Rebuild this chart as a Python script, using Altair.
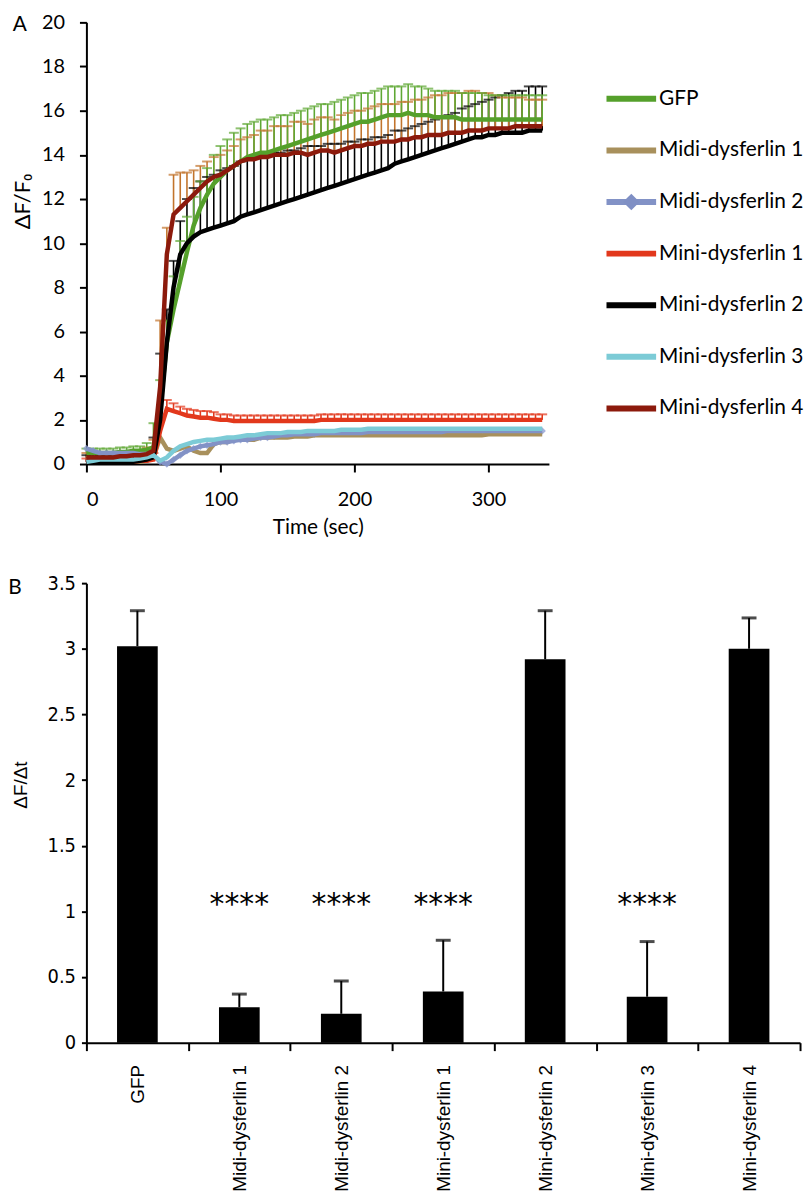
import altair as alt
import pandas as pd

# ---------------- Panel A data ----------------
times = list(range(0, 345, 5))
series_names = ["GFP", "Midi-dysferlin 1", "Midi-dysferlin 2", "Mini-dysferlin 1",
                "Mini-dysferlin 2", "Mini-dysferlin 3", "Mini-dysferlin 4"]
series_colors = ["#55a02b", "#a8905c", "#8292c6", "#e2381c", "#000000", "#7ccbd6", "#8c1a0c"]

gfp = [0.5, 0.5, 0.5, 0.5, 0.5, 0.55, 0.55, 0.6, 0.6, 0.65,
       0.75, 2.5, 5.5, 7.0, 8.3, 9.6, 10.8, 11.6, 12.2, 12.7,
       13.0, 13.3, 13.5, 13.7, 13.9, 14.0, 14.1, 14.1, 14.2, 14.3,
       14.4, 14.5, 14.6, 14.7, 14.8, 14.9, 15.0, 15.1, 15.2, 15.3,
       15.4, 15.5, 15.5, 15.6, 15.7, 15.8, 15.8, 15.8, 15.9, 15.8,
       15.8, 15.8, 15.7, 15.7, 15.7, 15.7, 15.6, 15.6, 15.6, 15.6,
       15.6, 15.6, 15.6, 15.6, 15.6, 15.6, 15.6, 15.6, 15.6]
midi1 = [0.2, 0.15, 0.1, 0.1, 0.1, 0.1, 0.1, 0.1, 0.1, 0.15,
         0.3, 1.2, 0.7, 0.6, 0.7, 0.8, 0.6, 0.5, 0.5, 0.9,
         1.0, 1.0, 1.1, 1.1, 1.1, 1.1, 1.2, 1.2, 1.2, 1.2,
         1.2, 1.25, 1.25, 1.25, 1.3, 1.3, 1.3, 1.3, 1.3, 1.3,
         1.3, 1.3, 1.3, 1.3, 1.3, 1.3, 1.3, 1.3, 1.3, 1.3,
         1.3, 1.3, 1.3, 1.3, 1.3, 1.3, 1.3, 1.3, 1.3, 1.3,
         1.35, 1.35, 1.35, 1.35, 1.35, 1.35, 1.35, 1.35, 1.35]
midi2 = [0.7, 0.6, 0.5, 0.5, 0.5, 0.5, 0.5, 0.5, 0.45, 0.45,
         0.4, 0.1, 0.0, 0.2, 0.4, 0.6, 0.7, 0.8, 0.85, 0.9,
         1.0, 1.0, 1.05, 1.1, 1.1, 1.15, 1.2, 1.2, 1.25, 1.3,
         1.3, 1.35, 1.35, 1.35, 1.35, 1.4, 1.4, 1.4, 1.4, 1.4,
         1.4, 1.4, 1.45, 1.45, 1.45, 1.45, 1.45, 1.45, 1.45, 1.45,
         1.45, 1.45, 1.45, 1.45, 1.5, 1.5, 1.5, 1.5, 1.5, 1.5,
         1.5, 1.5, 1.5, 1.5, 1.5, 1.5, 1.5, 1.5, 1.5]
mini1 = [0.1, 0.1, 0.1, 0.1, 0.1, 0.1, 0.1, 0.1, 0.15, 0.15,
         0.2, 1.5, 2.5, 2.4, 2.3, 2.2, 2.15, 2.1, 2.1, 2.05,
         2.0, 2.0, 1.95, 1.95, 1.95, 1.95, 1.95, 1.95, 1.95, 1.95,
         1.95, 1.95, 1.95, 1.95, 1.95, 2.0, 2.0, 2.0, 2.0, 2.0,
         2.0, 2.0, 2.0, 2.0, 2.0, 2.0, 2.0, 2.0, 2.0, 2.0,
         2.0, 2.0, 2.0, 2.0, 2.0, 2.0, 2.0, 2.0, 2.0, 2.0,
         2.0, 2.0, 2.0, 2.0, 2.0, 2.0, 2.0, 2.0, 2.0]
mini2 = [0.1, 0.1, 0.1, 0.1, 0.1, 0.1, 0.1, 0.1, 0.15, 0.2,
         0.3, 2.0, 5.5, 8.0, 9.5, 10.0, 10.3, 10.5, 10.6, 10.7,
         10.8, 10.9, 11.0, 11.2, 11.3, 11.4, 11.5, 11.6, 11.7, 11.8,
         11.9, 12.0, 12.1, 12.2, 12.3, 12.4, 12.5, 12.6, 12.7, 12.8,
         12.9, 13.0, 13.1, 13.2, 13.3, 13.4, 13.6, 13.7, 13.8, 13.9,
         14.0, 14.1, 14.2, 14.3, 14.4, 14.5, 14.6, 14.7, 14.8, 14.8,
         14.9, 14.9, 15.0, 15.0, 15.0, 15.0, 15.1, 15.1, 15.1]
mini3 = [0.1, 0.15, 0.2, 0.2, 0.2, 0.2, 0.2, 0.2, 0.25, 0.3,
         0.4, 0.15, 0.3, 0.6, 0.8, 0.9, 1.0, 1.05, 1.1, 1.1,
         1.15, 1.2, 1.2, 1.25, 1.3, 1.3, 1.35, 1.4, 1.4, 1.4,
         1.45, 1.45, 1.45, 1.5, 1.5, 1.5, 1.5, 1.5, 1.55, 1.55,
         1.55, 1.55, 1.6, 1.6, 1.6, 1.6, 1.6, 1.6, 1.6, 1.6,
         1.6, 1.6, 1.6, 1.6, 1.6, 1.6, 1.6, 1.6, 1.6, 1.6,
         1.6, 1.6, 1.6, 1.6, 1.6, 1.6, 1.6, 1.6, 1.6]
mini4 = [0.3, 0.3, 0.3, 0.3, 0.3, 0.35, 0.35, 0.4, 0.4, 0.45,
         0.6, 3.5, 9.5, 11.3, 11.6, 11.9, 12.2, 12.5, 12.8, 13.0,
         13.1, 13.3, 13.5, 13.7, 13.8, 13.8, 13.9, 13.9, 14.0, 14.0,
         14.0, 14.1, 14.1, 14.0, 14.1, 14.2, 14.2, 14.1, 14.2, 14.3,
         14.4, 14.4, 14.5, 14.5, 14.6, 14.6, 14.6, 14.7, 14.7, 14.8,
         14.8, 14.9, 14.9, 14.9, 15.0, 15.0, 15.0, 15.1, 15.1, 15.1,
         15.2, 15.2, 15.2, 15.2, 15.3, 15.3, 15.3, 15.3, 15.3]

# upper error bars (SEM)
err_gfp = [0.2, 0.2, 0.2, 0.2, 0.2, 0.2, 0.2, 0.2, 0.2, 0.3,
           1.1, 1.3, 1.0, 1.5, 1.8, 1.6, 1.3, 1.2, 1.2, 1.3,
           1.4, 1.4, 1.5, 1.5, 1.5, 1.5, 1.5, 1.5, 1.5, 1.5,
           1.4, 1.4, 1.4, 1.4, 1.4, 1.4, 1.3, 1.3, 1.3, 1.3,
           1.3, 1.3, 1.3, 1.3, 1.3, 1.3, 1.3, 1.3, 1.3, 1.3,
           1.3, 1.2, 1.2, 1.2, 1.2, 1.2, 1.2, 1.2, 1.2, 1.2,
           1.1, 1.1, 1.1, 1.1, 1.1, 1.1, 1.1, 1.1, 1.1]
err_mini4 = [0.2, 0.2, 0.2, 0.2, 0.2, 0.2, 0.2, 0.2, 0.2, 0.3,
             0.5, 3.0, 1.2, 1.8, 1.6, 1.3, 1.1, 1.0, 0.9, 0.9,
             0.9, 0.9, 0.9, 1.0, 1.0, 1.1, 1.2, 1.2, 1.3, 1.3,
             1.3, 1.4, 1.4, 1.4, 1.5, 1.5, 1.5, 1.5, 1.6, 1.6,
             1.6, 1.6, 1.6, 1.7, 1.7, 1.7, 1.7, 1.7, 1.7, 1.7,
             1.7, 1.7, 1.8, 1.8, 1.8, 1.8, 1.8, 1.8, 1.8, 1.7,
             1.6, 1.5, 1.4, 1.4, 1.3, 1.3, 1.2, 1.2, 1.2]
err_mini2 = [0.3, 0.3, 0.3, 0.3, 0.3, 0.3, 0.3, 0.3, 0.3, 0.4,
             0.9, 3.0, 1.5, 1.2, 1.5, 2.0, 2.2, 2.3, 2.4, 2.4,
             2.5, 2.5, 2.5, 2.5, 2.5, 2.5, 2.5, 2.4, 2.4, 2.3,
             2.3, 2.2, 2.2, 2.2, 2.1, 2.0, 2.0, 1.9, 1.8, 1.8,
             1.7, 1.7, 1.6, 1.6, 1.5, 1.5, 1.5, 1.4, 1.4, 1.4,
             1.4, 1.4, 1.4, 1.4, 1.4, 1.4, 1.5, 1.5, 1.5, 1.6,
             1.6, 1.7, 1.7, 1.8, 1.9, 1.9, 2.0, 2.0, 2.0]
err_mini1 = [0.15, 0.15, 0.15, 0.15, 0.15, 0.15, 0.15, 0.15, 0.15, 0.15,
             0.3, 0.5, 0.4, 0.35, 0.3, 0.3, 0.3, 0.3, 0.3, 0.3,
             0.25, 0.25, 0.25, 0.25, 0.25, 0.25, 0.25, 0.25, 0.25, 0.25,
             0.25, 0.25, 0.25, 0.25, 0.25, 0.25, 0.25, 0.25, 0.25, 0.25,
             0.25, 0.25, 0.25, 0.25, 0.25, 0.25, 0.25, 0.25, 0.25, 0.25,
             0.25, 0.25, 0.25, 0.25, 0.25, 0.25, 0.25, 0.25, 0.25, 0.25,
             0.25, 0.25, 0.25, 0.25, 0.25, 0.25, 0.25, 0.25, 0.25]

# ---------------- Panel B data ----------------
bar_cats = series_names
bar_means = [3.02, 0.27, 0.22, 0.39, 2.92, 0.35, 3.00]
bar_errs = [0.27, 0.10, 0.25, 0.39, 0.37, 0.42, 0.235]
bar_sig = ["", "****", "****", "****", "", "****", ""]
sig_level = 1.075

panel_labels = ["A", "B"]

# ---------------- build tables ----------------
all_series = [gfp, midi1, midi2, mini1, mini2, mini3, mini4]
rows = []
for name, vals in zip(series_names, all_series):
    for t, v in zip(times, vals):
        rows.append({"t": t, "v": v, "series": name})
lines_df = pd.DataFrame(rows)

err_specs = [(mini2, err_mini2, "#000000"), (mini4, err_mini4, "#c2742c"),
             (gfp, err_gfp, "#5fa834"), (mini1, err_mini1, "#e2381c")]
erows = []
for vals, errs, col in err_specs:
    for t, v, e in zip(times, vals, errs):
        erows.append({"t": t, "v": v, "hi": v + e, "col": col})
err_df = pd.DataFrame(erows)

midi2_df = pd.DataFrame({"t": times, "v": midi2})
legend_df = pd.DataFrame({"series": series_names, "color": series_colors})

bar_df = pd.DataFrame({"cat": bar_cats, "mean": bar_means,
                       "hi": [m + e for m, e in zip(bar_means, bar_errs)],
                       "sig": bar_sig, "sig_y": [sig_level] * len(bar_cats)})

# ---------------- Panel A ----------------
FA = "Lato"
xA = alt.X("t:Q", scale=alt.Scale(domain=[0, 345], nice=False, zero=False),
           axis=alt.Axis(values=[0, 100, 200, 300], title="Time (sec)", labelFont=FA, labelFontSize=20,
                         titleFont=FA, titleFontSize=21, titleFontWeight="normal", tickSize=8,
                         labelPadding=18, titlePadding=7, domainWidth=2, tickWidth=2))
yA = alt.Y("v:Q", scale=alt.Scale(domain=[0, 20], nice=False),
           axis=alt.Axis(values=list(range(0, 21, 2)), title="ΔF/F₀", labelFont=FA, labelFontSize=20,
                         titleFont=FA, titleFontSize=22, titleFontWeight="normal", tickSize=7,
                         labelPadding=15, domainWidth=2, tickWidth=2,
                         titleX=-64, titleY=180, titleAlign="center", titleBaseline="middle"))

base_err = alt.Chart(err_df)
err_rules = base_err.mark_rule(strokeWidth=1.6).encode(
    x=xA, y="v:Q", y2="hi:Q", color=alt.Color("col:N", scale=None))
err_caps = base_err.mark_tick(orient="horizontal", size=10, thickness=2).encode(
    x="t:Q", y="hi:Q", color=alt.Color("col:N", scale=None))

diamonds = alt.Chart(midi2_df).mark_point(shape="diamond", filled=True, size=55, opacity=0.75,
                                          color="#8a9ad0").encode(x="t:Q", y="v:Q")

lines = alt.Chart(lines_df).mark_line(strokeWidth=4.5).encode(
    x=xA, y=yA,
    color=alt.Color("series:N", scale=alt.Scale(domain=series_names, range=series_colors), legend=None),
    order="t:Q")

labelA = alt.Chart(pd.DataFrame({"lab": [panel_labels[0]]})).mark_text(
    font=FA, fontSize=21, align="center", baseline="middle", color="black").encode(
    x=alt.value(-67), y=alt.value(3), text="lab:N")

mainA = alt.layer(err_rules, err_caps, diamonds, lines, labelA)

# hand-built legend (solid colours, diamond marker for Midi-dysferlin 2)
leg_y = alt.Y("series:N", sort=series_names, axis=None,
              scale=alt.Scale(type="point", range=[77, 389], padding=0))
leg_base = alt.Chart(legend_df).encode(y=leg_y)
leg_lines = leg_base.mark_rule(strokeWidth=6).encode(
    x=alt.value(524), x2=alt.value(574), color=alt.Color("color:N", scale=None))
leg_diamond = leg_base.transform_filter(alt.datum.series == "Midi-dysferlin 2").mark_point(
    shape="diamond", filled=True, size=280, opacity=1, color="#7f8fc4").encode(x=alt.value(549))
leg_text = leg_base.mark_text(align="left", baseline="middle", font=FA, fontSize=21,
                              color="black").encode(x=alt.value(577), text="series:N")
legendA = alt.layer(leg_lines, leg_diamond, leg_text)

panelA = alt.layer(mainA, legendA).resolve_scale(y="independent", color="independent").properties(
    width=466, height=445)

# ---------------- Panel B ----------------
FB = "Liberation Sans Narrow, DejaVu Sans Condensed, sans-serif"
xB = alt.X("cat:N", sort=bar_cats, scale=alt.Scale(paddingInner=0, paddingOuter=0),
           axis=alt.Axis(title=None, labelAngle=-90, labelFont="Liberation Sans", labelFontSize=19,
                         tickBand="extent", tickSize=8, labelPadding=14, domainWidth=2, tickWidth=2))
yB = alt.Y("mean:Q", scale=alt.Scale(domain=[0, 3.5], nice=False),
           axis=alt.Axis(values=[0, 0.5, 1, 1.5, 2, 2.5, 3, 3.5], format="~g", title="ΔF/Δt",
                         labelFont=FB, labelFontSize=20, titleFont="Liberation Sans", titleFontSize=19,
                         titleFontWeight="normal", tickSize=5, labelPadding=6, domainWidth=2, tickWidth=2,
                         titleX=-66, titleY=203, titleAlign="center", titleBaseline="middle"))

baseB = alt.Chart(bar_df)
bars = baseB.mark_bar(size=41, color="black").encode(x=xB, y=yB)
bar_err = baseB.mark_rule(strokeWidth=2, color="black").encode(x="cat:N", y="mean:Q", y2="hi:Q")
bar_cap = baseB.mark_tick(orient="horizontal", size=15, thickness=3, color="black").encode(
    x="cat:N", y="hi:Q")
stars = baseB.mark_text(font="DejaVu Sans", fontSize=30, baseline="middle", align="center",
                        color="black", dy=4).encode(x="cat:N", y="sig_y:Q", text="sig:N")
labelB = alt.Chart(pd.DataFrame({"lab": [panel_labels[1]]})).mark_text(
    font=FA, fontSize=21, align="center", baseline="middle", color="black").encode(
    x=alt.value(-72), y=alt.value(5), text="lab:N")

panelB = alt.layer(bars, bar_err, bar_cap, stars, labelB).properties(width=719, height=463)

chart = alt.vconcat(panelA, panelB, spacing=36).properties(
    padding={"left": 0, "top": 0, "right": 0, "bottom": 0}
).configure_view(stroke=None).configure_axis(
    grid=False, domainColor="black", tickColor="black", labelColor="black", titleColor="black")

chart.save("out.html", embed_options={"renderer": "svg", "actions": False})
